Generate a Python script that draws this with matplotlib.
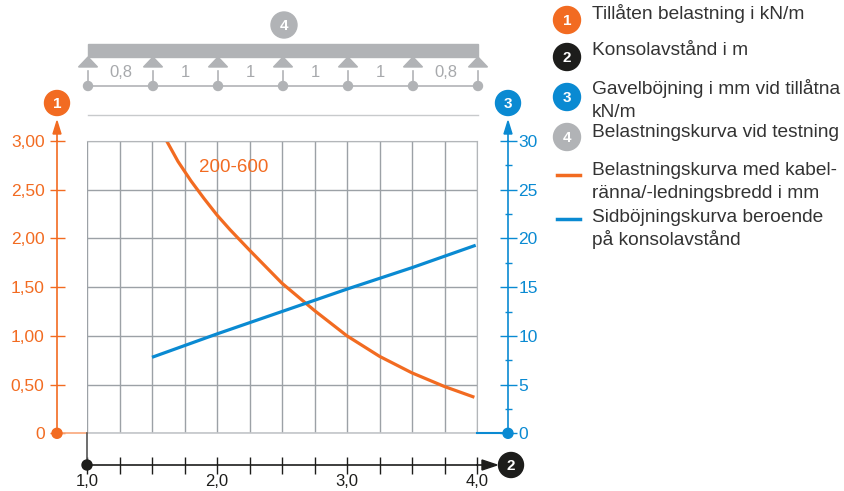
import numpy as np
import matplotlib
matplotlib.use('Agg')
import matplotlib.pyplot as plt
from matplotlib.patches import Circle, Rectangle, Polygon

plt.rcParams['font.family'] = ['Liberation Sans', 'DejaVu Sans']

ORANGE = '#f26b21'
BLUE = '#0a8ad2'
BLACK = '#1d1d1b'
GREY = '#b1b3b6'
TEXT = '#333333'

# belastningskurva 200-600, kN/m over konsolavstånd i m
load_x = [1.613, 1.7, 1.8, 1.9, 2.0, 2.1, 2.25, 2.5, 2.75, 3.0, 3.25, 3.5, 3.75, 3.98]
load_y = [3.0, 2.79, 2.59, 2.41, 2.24, 2.09, 1.88, 1.54, 1.26, 1.0, 0.79, 0.62, 0.48, 0.37]
# sidböjning i mm
defl_x = [1.5, 2.0, 2.5, 3.0, 3.5, 3.99]
defl_y = [7.8, 10.2, 12.5, 14.8, 17.0, 19.3]

x_ticks = [1.0, 1.25, 1.5, 1.75, 2.0, 2.25, 2.5, 2.75, 3.0, 3.25, 3.5, 3.75, 4.0]
x_labels = ['1,0', '', '', '', '2,0', '', '', '', '3,0', '', '', '', '4,0']
load_ticks = [0, 0.5, 1.0, 1.5, 2.0, 2.5, 3.0]
load_labels = ['0', '0,50', '1,00', '1,50', '2,00', '2,50', '3,00']
defl_ticks = [0, 5, 10, 15, 20, 25, 30]
defl_minor = [2.5, 7.5, 12.5, 17.5, 22.5, 27.5]

spans = ['0,8', '1', '1', '1', '1', '0,8']

legend_badges = [('1', ORANGE, ['Tillåten belastning i kN/m']),
                 ('2', BLACK, ['Konsolavstånd i m']),
                 ('3', BLUE, ['Gavelböjning i mm vid tillåtna', 'kN/m']),
                 ('4', GREY, ['Belastningskurva vid testning'])]
legend_lines = [(ORANGE, ['Belastningskurva med kabel-', 'ränna/-ledningsbredd i mm']),
                (BLUE, ['Sidböjningskurva beroende', 'på konsolavstånd'])]

W, H = 844, 491
fig = plt.figure(figsize=(W / 100, H / 100), dpi=100)

# plot area in pixels
x0, x1, y0, y1 = 87, 477, 433.3, 141
ax = fig.add_axes([x0 / W, 1 - y0 / H, (x1 - x0) / W, (y0 - y1) / H])
ax.set_xlim(1, 4)
ax.set_ylim(0, 3)
ax.set_xticks(x_ticks)
ax.set_xticklabels(x_labels)
ax.set_yticks(load_ticks)
ax.set_yticklabels(load_labels)
ax.grid(True, color='#9ca1a6', lw=1.0)
ax.set_axisbelow(True)

ax.spines['top'].set_color('#b3b6b9')
ax.spines['right'].set_color('#b3b6b9')
ax.spines['left'].set_position(('outward', 30 * 0.72))
ax.spines['left'].set_color(ORANGE)
ax.spines['left'].set_linewidth(1.2)
ax.spines['bottom'].set_position(('outward', 32 * 0.72))
ax.spines['bottom'].set_color(BLACK)
ax.spines['bottom'].set_linewidth(1.2)
ax.tick_params(axis='y', direction='inout', length=15 * 0.72, width=1,
               color=ORANGE, labelcolor=ORANGE, labelsize=12.5, pad=3.6)
ax.tick_params(axis='x', direction='inout', length=17 * 0.72, width=1,
               color=BLACK, labelcolor=BLACK, labelsize=12, pad=0.5)

ax.plot(load_x, load_y, color=ORANGE, lw=2.3, solid_capstyle='butt',
        solid_joinstyle='round')
ax.text(1.86, 2.73, '200-600', color=ORANGE, fontsize=13.5, ha='left', va='center')

ax2 = ax.twinx()
ax2.set_ylim(0, 30)
ax2.set_yticks(defl_ticks)
ax2.set_yticks(defl_minor, minor=True)
for s in ['left', 'top', 'bottom']:
    ax2.spines[s].set_visible(False)
ax2.spines['right'].set_position(('outward', 31 * 0.72))
ax2.spines['right'].set_color(BLUE)
ax2.spines['right'].set_linewidth(1.2)
ax2.tick_params(axis='y', which='major', direction='inout', length=17 * 0.72, width=1,
                color=BLUE, labelcolor=BLUE, labelsize=12.5, pad=1.5)
ax2.tick_params(axis='y', which='minor', direction='inout', length=7 * 0.72, width=1,
                color=BLUE)
ax2.plot(defl_x, defl_y, color=BLUE, lw=2.3, solid_capstyle='butt')

# overlay in pixel coordinates for the drawing decorations
ov = fig.add_axes([0, 0, 1, 1])
ov.set_xlim(0, W)
ov.set_ylim(H, 0)
ov.axis('off')


def badge(x, y, label, color, r=12.5):
    ov.add_patch(Circle((x, y), r, color=color, zorder=5))
    ov.text(x, y + 0.5, label, color='white', fontsize=11, fontweight='bold',
            ha='center', va='center', zorder=6)


# axis stubs, arrows and end dots
ov.plot([x0, x1], [y0, y0], color='#c3c6c9', lw=1.2, zorder=1)
ov.plot([57, x0], [y0, y0], color='#f9a77a', lw=1.2)
ov.plot([x1, 508], [y0, y0], color=BLUE, lw=1.5)
ov.plot([x0, x0], [y0, 465], color='#555555', lw=1.2)
ov.plot([57, 57], [y1, 130], color=ORANGE, lw=1.2)
ov.plot([508, 508], [y1, 130], color=BLUE, lw=1.2)
ov.plot([x1, 485], [465, 465], color=BLACK, lw=1.2)
ov.add_patch(Polygon([(57, 121), (53, 134), (61, 134)], color=ORANGE))
ov.add_patch(Polygon([(508, 121), (504, 134), (512, 134)], color=BLUE))
ov.add_patch(Polygon([(497, 465), (482, 460), (482, 470)], color=BLACK))
ov.add_patch(Circle((57, y0), 5, color=ORANGE, zorder=4))
ov.add_patch(Circle((508, y0), 5, color=BLUE, zorder=4))
ov.add_patch(Circle((x0, 465), 5, color=BLACK, zorder=4))
badge(57, 103, '1', ORANGE)
badge(508, 103, '3', BLUE)
badge(511, 465, '2', BLACK)

# test beam with supports
bx0, bx1 = 88, 478
ov.add_patch(Rectangle((bx0, 44), bx1 - bx0, 12.5, color=GREY))
badge(284, 25, '4', GREY, r=13)
sup = np.linspace(bx0, bx1, len(spans) + 1)
ov.plot([bx0, bx1], [86, 86], color=GREY, lw=1.2)
for sx in sup:
    ov.add_patch(Polygon([(sx, 57), (sx - 9.5, 67), (sx + 9.5, 67)], color=GREY))
    ov.plot([sx, sx], [71, 84], color=GREY, lw=1.2)
    ov.add_patch(Circle((sx, 86), 4.5, color=GREY, zorder=4))
for i, s in enumerate(spans):
    ov.text((sup[i] + sup[i + 1]) / 2, 72, s, color='#a7a9ac', fontsize=12,
            ha='center', va='center')
ov.plot([bx0, bx1], [115, 115], color='#c8cacc', lw=1)

# legend
badge_y = [20, 57, 97, 137]
text_y = [19, 55, 94, 137]
for (lab, col, lines), by, ty in zip(legend_badges, badge_y, text_y):
    badge(567, by, lab, col, r=13.5)
    for k, line in enumerate(lines):
        ov.text(592, ty + 23 * k, line, color=TEXT, fontsize=13.8,
                ha='left', va='baseline')
line_y = [175, 219]
ltext_y = [175, 222]
for (col, lines), ly, ty in zip(legend_lines, line_y, ltext_y):
    ov.plot([557, 580], [ly, ly], color=col, lw=2.5)
    for k, line in enumerate(lines):
        ov.text(592, ty + 23 * k, line, color=TEXT, fontsize=13.8,
                ha='left', va='baseline')

fig.savefig('out.png', dpi=100)
